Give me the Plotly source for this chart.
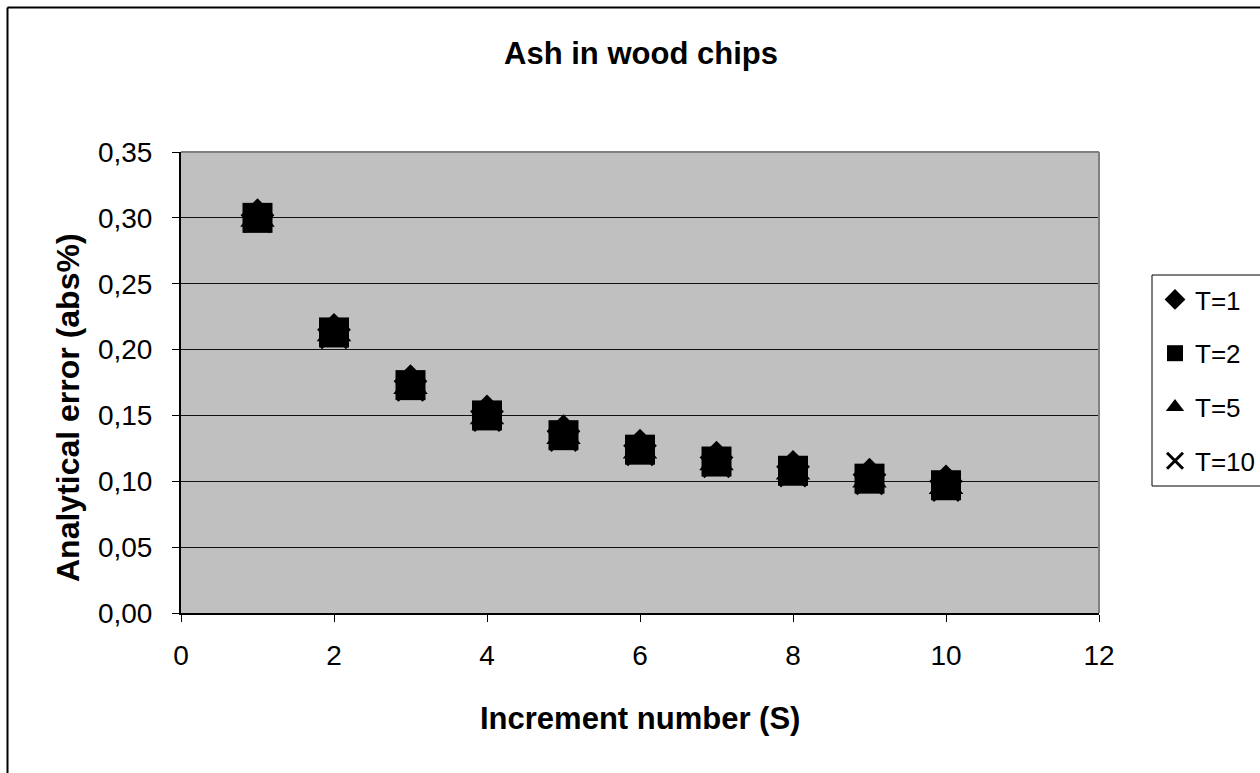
import plotly.graph_objects as go

S = [1, 2, 3, 4, 5, 6, 7, 8, 9, 10]
T1 = [0.302, 0.215, 0.176, 0.153, 0.138, 0.127, 0.118, 0.111, 0.105, 0.100]
T2 = [0.300, 0.213, 0.173, 0.150, 0.135, 0.124, 0.115, 0.108, 0.102, 0.097]
T5 = [0.299, 0.212, 0.172, 0.149, 0.134, 0.123, 0.114, 0.107, 0.101, 0.096]
T10 = [0.299, 0.211, 0.171, 0.148, 0.133, 0.122, 0.113, 0.106, 0.100, 0.095]

names = ["T=1", "T=2", "T=5", "T=10"]
series = [T1, T2, T5, T10]
symbols = ["diamond", "square", "triangle-up", "x-thin-open"]
sizes = [26, 30, 30, 26]

FONT = "Arial, Liberation Sans, sans-serif"

W, H = 1260, 773
L, R, T, B = 181, 1099, 152, 613

def px(x):
    return (x - L) / (R - L)

def py(y):
    return (B - y) / (B - T)

fig = go.Figure()
for i, (nm, ys, sym, sz) in enumerate(zip(names, series, symbols, sizes)):
    fig.add_trace(go.Scatter(
        x=S, y=ys, mode="markers", name=nm, legendgroup=nm,
        marker=dict(symbol=sym, size=sz, color="black",
                    line=dict(color="black", width=3 if sym.startswith("x") else 0)),
    ))

shapes = [
    dict(type="line", xref="paper", yref="paper", x0=0, x1=1, y0=1, y1=1,
         line=dict(color="#808080", width=2)),
    dict(type="line", xref="paper", yref="paper", x0=1, x1=1, y0=0, y1=1,
         line=dict(color="#808080", width=2)),
    dict(type="line", xref="paper", yref="paper", x0=px(7.5), x1=px(7.5), y0=py(7.5), y1=py(780),
         line=dict(color="black", width=2)),
    dict(type="line", xref="paper", yref="paper", x0=px(7.5), x1=px(1270), y0=py(7.5), y1=py(7.5),
         line=dict(color="black", width=2)),
    dict(type="rect", xref="paper", yref="paper", x0=px(1152), x1=px(1275), y0=py(275), y1=py(486),
         line=dict(color="black", width=1), fillcolor="white", layer="below"),
]

annotations = [
    dict(text="<b>Increment number (S)</b>", xref="paper", yref="paper",
         x=px(640), y=py(718), xanchor="center", yanchor="middle", showarrow=False,
         font=dict(family=FONT, size=31, color="black")),
    dict(text="<b>Analytical error (abs%)</b>", xref="paper", yref="paper",
         x=px(68), y=py(408), xanchor="center", yanchor="middle", showarrow=False,
         textangle=-90, font=dict(family=FONT, size=32, color="black")),
]

fig.update_layout(
    width=W, height=H,
    margin=dict(l=L, r=W - R, t=T, b=H - B, autoexpand=False),
    paper_bgcolor="white",
    plot_bgcolor="#C0C0C0",
    separators=", ",
    font=dict(family=FONT, size=28, color="black"),
    title=dict(text="<b>Ash in wood chips</b>", x=641 / W, y=1 - 53 / H,
               xref="container", yref="container", xanchor="center", yanchor="middle",
               font=dict(family=FONT, size=31, color="black")),
    xaxis=dict(range=[0, 12], dtick=2, tick0=0, showgrid=False, zeroline=False,
               showline=True, linecolor="black", linewidth=2,
               ticks="outside", ticklen=7, tickcolor="black", tickwidth=1,
               tickfont=dict(family=FONT, size=28, color="black"), ticklabelstandoff=9),
    yaxis=dict(range=[0, 0.35], dtick=0.05, tick0=0, tickformat=".2f",
               showgrid=True, gridcolor="#111111", gridwidth=1, zeroline=False,
               showline=True, linecolor="black", linewidth=2,
               ticks="outside", ticklen=7, tickcolor="black", tickwidth=1,
               tickfont=dict(family=FONT, size=28, color="black"), ticklabelstandoff=14),
    legend=dict(x=px(1155), y=py(276), xanchor="left", yanchor="top",
                bgcolor="rgba(0,0,0,0)", borderwidth=0,
                traceorder="grouped", tracegroupgap=17,
                font=dict(family=FONT, size=26, color="black"),
                itemsizing="trace"),
    shapes=shapes,
    annotations=annotations,
    showlegend=True,
)

fig.write_html("out.html", config={"displayModeBar": False},
               post_script="document.body.style.margin='0';")
